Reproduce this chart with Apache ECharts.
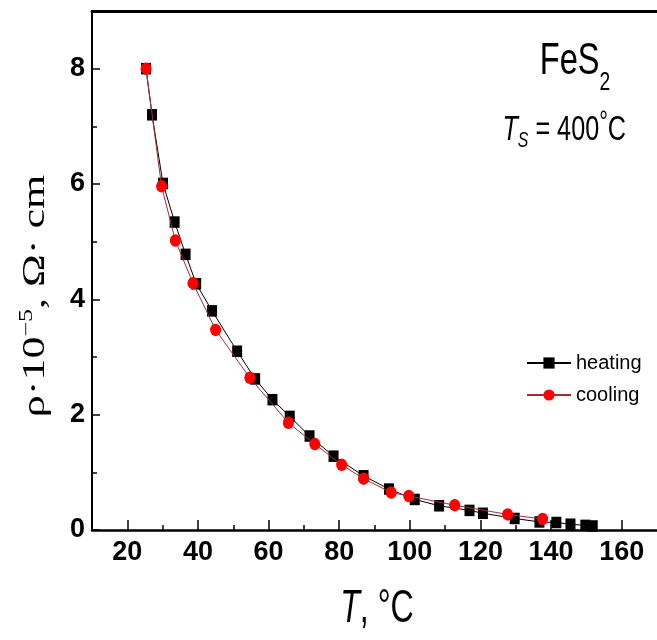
<!DOCTYPE html>
<html>
<head>
<meta charset="utf-8">
<script src="https://cdn.jsdelivr.net/npm/echarts@6/dist/echarts.min.js"></script>
<style>
html,body{margin:0;padding:0;background:#fff;}
#chart{width:657px;height:640px;}
</style>
</head>
<body>
<div id="chart"></div>
<script>
// Heating (black squares): [T in °C, rho·10^-5 in Ω·cm]
const heatingT   = [25.3, 27.0, 30.1, 33.4, 36.5, 39.5, 44.0, 51.1, 56.2, 61.1, 66.0, 71.6, 78.4, 86.9, 94.1, 101.4, 108.3, 116.9, 120.7, 129.7, 136.7, 141.5, 145.5, 149.7, 151.8];
const heatingRho = [8.00, 7.20, 6.01, 5.34, 4.78, 4.27, 3.80, 3.10, 2.62, 2.26, 1.97, 1.63, 1.28, 0.94, 0.71, 0.53, 0.42, 0.34, 0.29, 0.20, 0.14, 0.13, 0.10, 0.08, 0.07];
// Cooling (red circles)
const coolingT   = [25.3, 29.7, 33.6, 38.6, 45.0, 54.7, 65.6, 73.1, 80.7, 86.9, 94.7, 99.7, 112.7, 127.7, 137.6];
const coolingRho = [8.00, 5.96, 5.02, 4.28, 3.47, 2.64, 1.86, 1.49, 1.13, 0.89, 0.65, 0.59, 0.43, 0.27, 0.19];

const seriesNames = ['heating', 'cooling'];
const xMajorTicks = [20, 40, 60, 80, 100, 120, 140, 160];
const xMinorTicks = [30, 50, 70, 90, 110, 130, 150];
const yMajorTicks = [0, 2, 4, 6, 8];
const yMinorTicks = [1, 3, 5, 7];

const sans = "'Liberation Sans', Arial, sans-serif";
const serif = "'Liberation Serif', 'Times New Roman', serif";

const chart = echarts.init(document.getElementById('chart'), null, {renderer: 'canvas'});

function pairs(xs, ys) { return xs.map((x, i) => [x, ys[i]]); }

const option = {
  backgroundColor: '#fff',
  animation: false,
  grid: {left: 92, right: -4, top: 11, bottom: 110, containLabel: false},
  legend: {
    orient: 'vertical',
    left: 521, top: 348,
    itemWidth: 44, itemHeight: 14, itemGap: 12,
    data: seriesNames,
    textStyle: {fontFamily: sans, fontSize: 20, color: '#000'}
  },
  xAxis: [
    {
      type: 'value', position: 'bottom', min: 10, max: 170,
      axisLine: {show: true, lineStyle: {color: '#000', width: 2.5}},
      axisTick: {show: true, inside: true, length: 10, customValues: xMajorTicks, lineStyle: {color: '#000', width: 1.5}},
      axisLabel: {show: true, customValues: xMajorTicks, margin: 9, fontFamily: sans, fontWeight: 'bold', fontSize: 27, color: '#000'},
      splitLine: {show: false}
    },
    {
      type: 'value', position: 'bottom', min: 10, max: 170,
      axisLine: {show: false},
      axisTick: {show: true, inside: true, length: 5, customValues: xMinorTicks, lineStyle: {color: '#000', width: 1.5}},
      axisLabel: {show: false},
      splitLine: {show: false}
    },
    {
      type: 'value', position: 'top', min: 10, max: 170,
      axisLine: {show: true, lineStyle: {color: '#000', width: 3}},
      axisTick: {show: false}, axisLabel: {show: false}, splitLine: {show: false}
    }
  ],
  yAxis: [
    {
      type: 'value', position: 'left', min: 0, max: 9,
      axisLine: {show: true, lineStyle: {color: '#000', width: 2}},
      axisTick: {show: true, inside: true, length: 8, customValues: yMajorTicks, lineStyle: {color: '#000', width: 1.5}},
      axisLabel: {show: true, customValues: yMajorTicks, margin: 7, fontFamily: sans, fontWeight: 'bold', fontSize: 27, color: '#000'},
      splitLine: {show: false}
    },
    {
      type: 'value', position: 'left', min: 0, max: 9,
      axisLine: {show: false},
      axisTick: {show: true, inside: true, length: 5, customValues: yMinorTicks, lineStyle: {color: '#000', width: 1.5}},
      axisLabel: {show: false}, splitLine: {show: false}
    }
  ],
  graphic: [
    // y-axis title (rotated, horizontally condensed)
    {
      type: 'text', x: 36, y: 296, rotation: Math.PI / 2, scaleY: 0.7,
      style: {
        text: '{a|ρ·10}{s|−5}{a|, Ω· cm}',
        align: 'center', verticalAlign: 'middle',
        rich: {
          a: {fontFamily: serif, fontSize: 44, fill: '#000', lineHeight: 50},
          s: {fontFamily: serif, fontSize: 26, fill: '#000', lineHeight: 50, verticalAlign: 'top'}
        }
      }
    },
    // x-axis title
    {
      type: 'text', x: 377, y: 609, scaleX: 0.7,
      style: {
        text: '{i|T}{n|, °C}',
        align: 'center', verticalAlign: 'middle',
        rich: {
          i: {fontFamily: sans, fontStyle: 'italic', fontSize: 46, fill: '#000'},
          n: {fontFamily: sans, fontSize: 46, fill: '#000'}
        }
      }
    },
    // FeS2 label
    {
      type: 'text', x: 575, y: 40, scaleX: 0.74,
      style: {
        text: '{m|FeS}{b|2}',
        align: 'center', verticalAlign: 'top',
        rich: {
          m: {fontFamily: sans, fontSize: 44, fill: '#000', lineHeight: 56, verticalAlign: 'top'},
          b: {fontFamily: sans, fontSize: 26, fill: '#000', lineHeight: 56, verticalAlign: 'bottom'}
        }
      }
    },
    // T_S = 400 °C label
    {
      type: 'text', x: 626, y: 108, scaleX: 0.72,
      style: {
        text: '{i|T}{s|S}{m| = 400}{o|°}{m|C}',
        align: 'right', verticalAlign: 'top',
        rich: {
          i: {fontFamily: sans, fontStyle: 'italic', fontSize: 35, fill: '#000', lineHeight: 44},
          s: {fontFamily: sans, fontStyle: 'italic', fontSize: 22, fill: '#000', lineHeight: 44, verticalAlign: 'bottom'},
          m: {fontFamily: sans, fontSize: 35, fill: '#000', lineHeight: 44},
          o: {fontFamily: sans, fontSize: 30, fill: '#000', lineHeight: 44, verticalAlign: 'top'}
        }
      }
    }
  ],
  series: [
    {
      name: seriesNames[0], type: 'line', xAxisIndex: 0, yAxisIndex: 0,
      data: pairs(heatingT, heatingRho),
      symbol: 'rect', symbolSize: [10, 11.5],
      itemStyle: {color: '#000'},
      lineStyle: {color: '#000', width: 1},
      z: 2
    },
    {
      name: seriesNames[1], type: 'line', xAxisIndex: 0, yAxisIndex: 0,
      data: pairs(coolingT, coolingRho),
      symbol: 'circle', symbolSize: [11, 12.5],
      itemStyle: {color: '#ff0000'},
      lineStyle: {color: '#a0302f', width: 1},
      z: 3
    }
  ]
};
chart.setOption(option);
</script>
</body>
</html>
